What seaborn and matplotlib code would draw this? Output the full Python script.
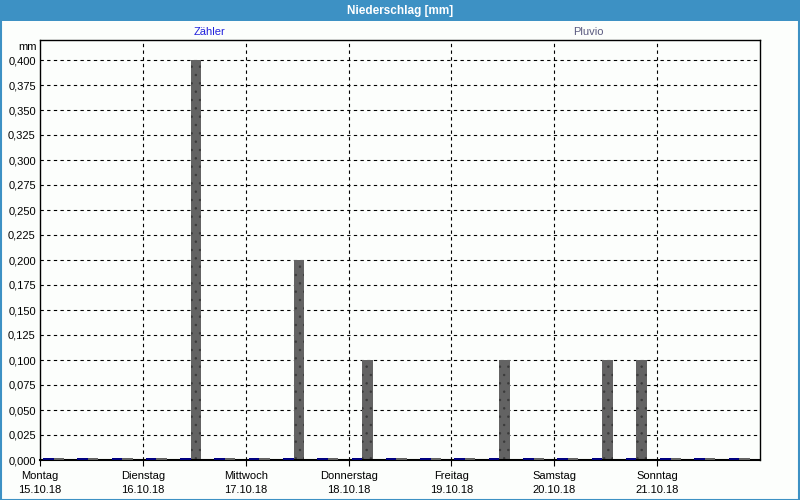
import matplotlib
matplotlib.use("Agg")
import matplotlib.pyplot as plt
from matplotlib.patches import Rectangle
import seaborn as sns
import pandas as pd

# ---- data ----
day_names = ["Montag", "Dienstag", "Mittwoch", "Donnerstag", "Freitag", "Samstag", "Sonntag"]
day_dates = ["15.10.18", "16.10.18", "17.10.18", "18.10.18", "19.10.18", "20.10.18", "21.10.18"]
hours = [0, 8, 16, 24, 32, 40, 48, 56, 64, 72, 80, 88, 96, 104, 112, 120, 128, 136, 144, 152, 160]
zaehler = [0, 0, 0, 0, 0, 0, 0, 0, 0, 0, 0, 0, 0, 0, 0, 0, 0, 0, 0, 0, 0]
pluvio = [0, 0, 0, 0, 0.4, 0, 0, 0.2, 0, 0.1, 0, 0, 0, 0.1, 0, 0, 0.1, 0.1, 0, 0, 0]
y_ticks = [0.0, 0.025, 0.05, 0.075, 0.1, 0.125, 0.15, 0.175, 0.2, 0.225, 0.25,
           0.275, 0.3, 0.325, 0.35, 0.375, 0.4]

df = pd.DataFrame({
    "hour": hours * 2,
    "value": zaehler + pluvio,
    "series": ["Zähler"] * len(hours) + ["Pluvio"] * len(hours),
})

# ---- style ----
sns.set_theme(style="white")
plt.rcParams["font.family"] = ["Liberation Sans", "DejaVu Sans"]
plt.rcParams["hatch.linewidth"] = 0.5
bg = "#fcfefc"
frame_blue = "#3d91c4"
fs = 8

fig = plt.figure(figsize=(8, 5), dpi=100, facecolor=bg)
ax = fig.add_axes([40 / 800, 40 / 500, 720 / 800, 420 / 500], facecolor=bg)

df["x"] = df["hour"] + 3.15
sns.barplot(data=df, x="x", y="value", hue="series", hue_order=["Zähler", "Pluvio"],
            palette={"Zähler": "#000080", "Pluvio": "#636363"},
            native_scale=True, dodge=True, width=0.61, legend=False,
            saturation=1, ax=ax, err_kws={"linewidth": 0})

# zero-valued bars are shown as a thin stub (as the source software does)
stub = 0.0018
for p in ax.patches:
    if p.get_height() > 0:
        p.set_edgecolor("#3a3a3a")
        p.set_hatch("..")
        p.set_linewidth(0.0)
    else:
        p.set_height(stub)
        p.set_linewidth(0)
        p.set_zorder(3)

ax.set_xlim(0, 168)
ax.set_ylim(0, 0.42)
ax.set_xticks([0, 24, 48, 72, 96, 120, 144])
ax.set_xticklabels([f"{n}\n{d}" for n, d in zip(day_names, day_dates)],
                   fontsize=fs, linespacing=1.5)
ax.set_yticks(y_ticks)
ax.set_yticklabels([f"{v:.3f}".replace(".", ",") for v in y_ticks], fontsize=fs)
ax.set_xlabel("")
ax.set_ylabel("")
ax.tick_params(axis="x", bottom=True, length=4, width=0.8, color="black", pad=4, colors="black")
ax.tick_params(axis="y", left=False, length=0, pad=3, colors="black")

for v in [24, 48, 72, 96, 120, 144]:
    ax.axvline(v, color="black", lw=0.8, ls=(0, (3, 3)), zorder=0.5)
for v in y_ticks[1:]:
    ax.axhline(v, color="black", lw=0.8, ls=(0, (3, 3)), zorder=0.5)

for s in ax.spines.values():
    s.set_visible(True)
    s.set_color("black")
    s.set_linewidth(1.0)
    s.set_zorder(2.5)
ax.spines["bottom"].set_linewidth(1.5)

# unit label
ax.text(-0.0045, 0.413, "mm", transform=ax.get_yaxis_transform(), ha="right", va="center",
        fontsize=fs, color="black")

# series labels
fig.text(209 / 800, 1 - 32 / 500, "Zähler", ha="center", va="center", fontsize=fs, color="#2222dd")
fig.text(588 / 800, 1 - 32 / 500, "Pluvio", ha="center", va="center", fontsize=fs, color="#5a5a80")

# title bar and border
fig.patches.append(Rectangle((0, 1 - 21 / 500), 1, 21 / 500, transform=fig.transFigure,
                             facecolor=frame_blue, edgecolor="none", zorder=0))
fig.patches.append(Rectangle((0.5 / 800, 0.5 / 500), 798 / 800, 498 / 500, transform=fig.transFigure,
                             facecolor="none", edgecolor=frame_blue, linewidth=1.5, zorder=5))
fig.text(0.5, 1 - 11 / 500, "Niederschlag [mm]", ha="center", va="center", fontsize=8.5,
         fontweight="bold", color="white")

fig.savefig("out.png", dpi=100, facecolor=bg)
